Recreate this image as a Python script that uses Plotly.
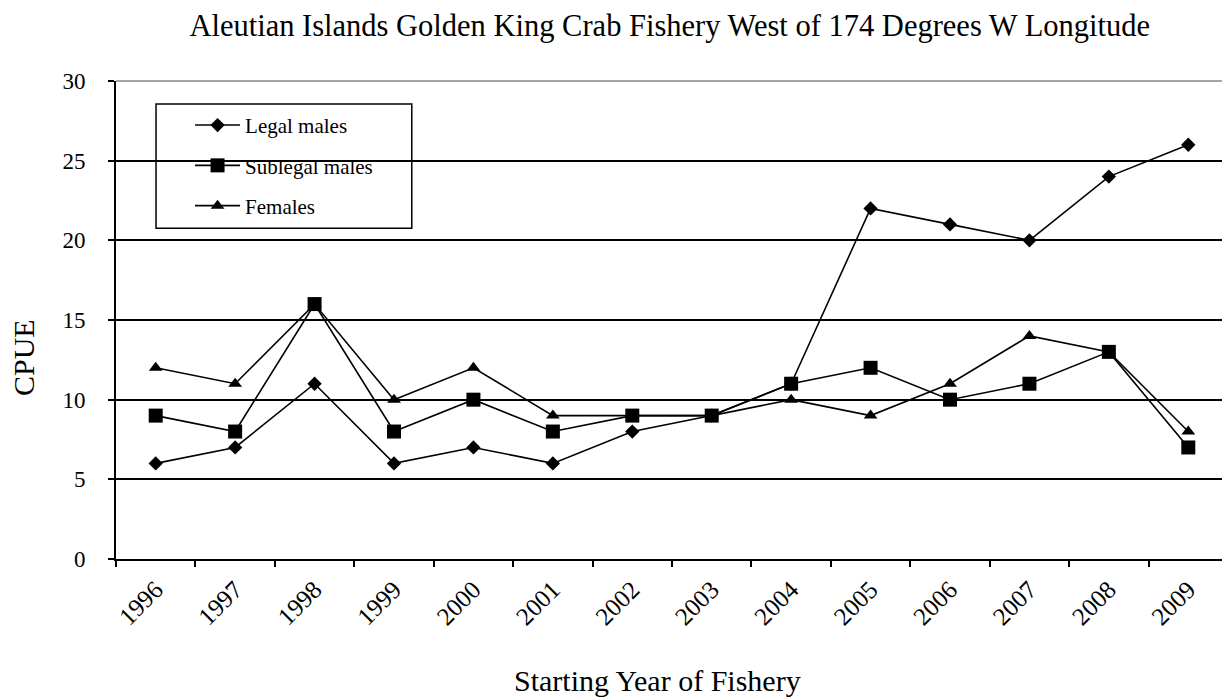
import plotly.graph_objects as go

years = ["1996", "1997", "1998", "1999", "2000", "2001", "2002", "2003",
         "2004", "2005", "2006", "2007", "2008", "2009"]
legal_males = [6, 7, 11, 6, 7, 6, 8, 9, 11, 22, 21, 20, 24, 26]
sublegal_males = [9, 8, 16, 8, 10, 8, 9, 9, 11, 12, 10, 11, 13, 7]
females = [12, 11, 16, 10, 12, 9, 9, 9, 10, 9, 11, 14, 13, 8]

FONT = "Liberation Serif, Times New Roman, serif"

fig = go.Figure()
series = [
    ("Legal males", legal_males, "diamond", 11),
    ("Sublegal males", sublegal_males, "square", 14),
    ("Females", females, "triangle-up", 12),
]
for i, (name, vals, sym, sz) in enumerate(series):
    fig.add_trace(go.Scatter(
        x=years, y=vals, name=name, mode="lines+markers",
        line=dict(color="black", width=1.6),
        marker=dict(symbol=sym, size=sz, color="black"),
        legendgroup=f"g{i}",
    ))

fig.update_layout(
    width=1230, height=700,
    margin=dict(l=108, r=10, t=73, b=149),
    paper_bgcolor="white", plot_bgcolor="white",
    font=dict(family=FONT, color="black"),
    title=dict(text="Aleutian Islands Golden King Crab Fishery West of 174 Degrees W Longitude",
               x=0.538, xanchor="center", y=0.975, yanchor="middle",
               font=dict(size=30.5, family=FONT, color="black")),
    showlegend=True,
    legend=dict(x=0.0666, y=0.95, xanchor="left", yanchor="top",
                bgcolor="rgba(0,0,0,0)", borderwidth=0,
                traceorder="grouped", tracegroupgap=10, itemwidth=45,
                font=dict(size=21, family=FONT, color="black")),
    xaxis=dict(type="category", tickson="boundaries", ticks="outside",
               range=[-0.5, len(years) - 0.5],
               ticklen=6, tickwidth=2, tickcolor="black",
               showline=True, linecolor="black", linewidth=2,
               showgrid=False, tickangle=-45, automargin=False,
               ticklabelstandoff=4,
               tickfont=dict(size=25, family=FONT, color="black")),
    yaxis=dict(range=[0, 30], tickvals=[0, 5, 10, 15, 20, 25, 30],
               ticks="outside", ticklen=6, tickwidth=2, tickcolor="black",
               showline=True, linecolor="black", linewidth=2,
               showgrid=True, gridcolor="black", gridwidth=1.5,
               zeroline=False, automargin=False, ticklabelstandoff=18,
               tickfont=dict(size=23, family=FONT, color="black")),
    annotations=[
        dict(text="Starting Year of Fishery", xref="paper", yref="paper",
             x=0.4874, y=-0.255, xanchor="center", yanchor="middle",
             showarrow=False, font=dict(size=30, family=FONT, color="black")),
        dict(text="CPUE", xref="paper", yref="paper", textangle=-90,
             x=-0.0836, y=0.4205, xanchor="center", yanchor="middle",
             showarrow=False, font=dict(size=30, family=FONT, color="black")),
    ],
)

# plot-area frame (gray, top and right)
fig.add_shape(type="path", xref="paper", yref="paper",
              path="M 0 1 L 1 1 L 1 0",
              line=dict(color="#888888", width=1.5), layer="above")
# legend box
fig.add_shape(type="rect", xref="paper", yref="paper",
              x0=0.036, x1=0.266, y0=0.692, y1=0.952,
              line=dict(color="black", width=1.5), fillcolor="white",
              layer="between")

fig.write_html("out.html")
